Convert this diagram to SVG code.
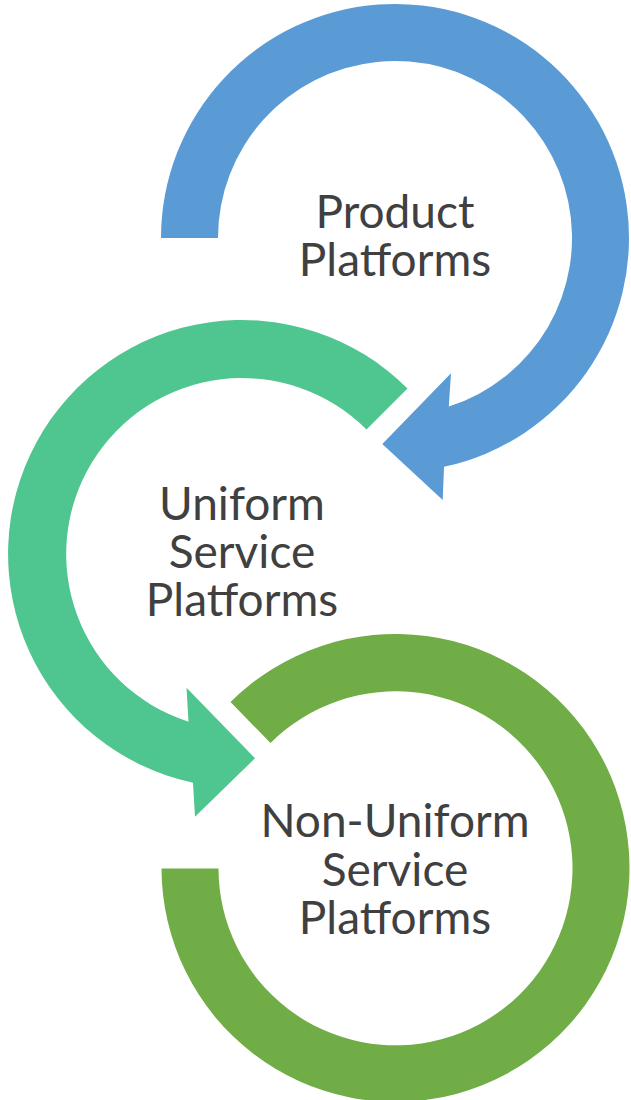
<svg xmlns="http://www.w3.org/2000/svg" width="631" height="1100" viewBox="0 0 631 1100">
<style>
.lbl{font-family:Lato,"Open Sans","Liberation Sans",sans-serif;font-size:46px;fill:#404040;text-anchor:middle}
.blue{fill:#5B9BD5}
.teal{fill:#4FC58F}
.green{fill:#70AD47}
</style>
<rect width="631" height="1100" fill="#FFFFFF"/>
<g id="connectors">
<path class="blue" d="M161 238 A234 234 0 1 1 444.05 466.8 L442.7 500 L382.3 444 L451 373.3 L448.8 406.6 A177 177 0 1 0 218 238 Z"/>
<path class="teal" d="M407.5 388.5 A234 234 0 1 0 193 782.8 L195 816.7 L255 758.3 L186.5 687.7 L188.5 721.7 A176 176 0 1 1 366.5 429.5 Z"/>
<path class="green" d="M161.5 868.5 A234 234 0 1 0 230.5 702 L270.5 743 A177 177 0 1 1 218.5 868.5 Z"/>
</g>
<g id="node-product">
<text class="lbl" x="395" y="228">Product</text>
<text class="lbl" x="395" y="276">Platforms</text>
</g>
<g id="node-uniform">
<text class="lbl" x="242" y="520">Uniform</text>
<text class="lbl" x="242" y="568">Service</text>
<text class="lbl" x="242" y="616">Platforms</text>
</g>
<g id="node-nonuniform">
<text class="lbl" x="395" y="837">Non-Uniform</text>
<text class="lbl" x="395" y="886">Service</text>
<text class="lbl" x="395" y="934">Platforms</text>
</g>
</svg>
